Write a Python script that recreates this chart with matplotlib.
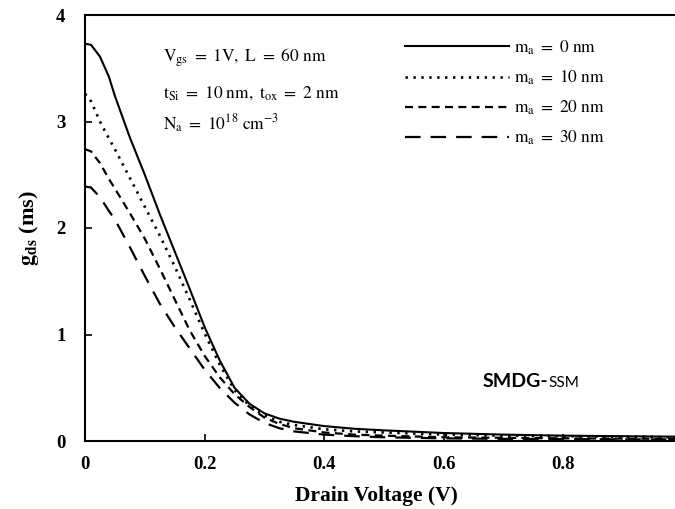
import numpy as np
import matplotlib
matplotlib.use('Agg')
import matplotlib.pyplot as plt

plt.rcParams['mathtext.fontset'] = 'stix'
plt.rcParams['font.family'] = ['Liberation Serif', 'DejaVu Serif']

# 드레인 전압 (V)
vd = [0, 0.01, 0.025, 0.04, 0.05, 0.075, 0.1, 0.125, 0.15, 0.175, 0.2, 0.225, 0.25,
      0.275, 0.3, 0.325, 0.35, 0.4, 0.45, 0.5, 0.6, 0.7, 0.8, 0.9, 1.0]

# gds (ms) for each ma
gds_ma0 = [3.73, 3.72, 3.61, 3.42, 3.24, 2.85, 2.50, 2.13, 1.78, 1.43, 1.07, 0.76, 0.50,
           0.35, 0.26, 0.21, 0.18, 0.14, 0.115, 0.10, 0.075, 0.06, 0.05, 0.045, 0.04]
gds_ma10 = [3.26, 3.19, 3.00, 2.84, 2.74, 2.47, 2.20, 1.93, 1.64, 1.33, 1.01, 0.72, 0.48,
            0.33, 0.24, 0.18, 0.15, 0.11, 0.09, 0.08, 0.06, 0.05, 0.045, 0.04, 0.035]
gds_ma20 = [2.74, 2.72, 2.61, 2.46, 2.37, 2.14, 1.90, 1.62, 1.33, 1.04, 0.80, 0.60, 0.44,
            0.32, 0.22, 0.16, 0.12, 0.08, 0.06, 0.05, 0.035, 0.03, 0.025, 0.022, 0.02]
gds_ma30 = [2.39, 2.38, 2.29, 2.16, 2.08, 1.82, 1.55, 1.29, 1.07, 0.87, 0.67, 0.50, 0.36,
            0.25, 0.17, 0.12, 0.09, 0.06, 0.045, 0.035, 0.025, 0.02, 0.018, 0.015, 0.015]

labels = [r'$\mathrm{m_a}\ =\ 0\ \mathrm{nm}$', r'$\mathrm{m_a}\ =\ 10\ \mathrm{nm}$',
          r'$\mathrm{m_a}\ =\ 20\ \mathrm{nm}$', r'$\mathrm{m_a}\ =\ 30\ \mathrm{nm}$']

fig = plt.figure(figsize=(6.75, 5.09), dpi=100)
ax = fig.add_axes([85/675, 1-441/509, 598/675, 426/509])

styles = ['-', (0, (0.9, 2.1)), (0, (3.6, 2.4)), (0, (7, 4.5))]
widths = [1.5, 1.9, 1.6, 1.6]
lines = []
for y, ls, lw, lab in zip([gds_ma0, gds_ma10, gds_ma20, gds_ma30], styles, widths, labels):
    l, = ax.plot(vd, y, color='black', lw=lw, linestyle=ls, label=lab)
    lines.append(l)

ax.set_xlim(0, 1)
ax.set_ylim(0, 4)
ax.set_xticks([0, 0.2, 0.4, 0.6, 0.8, 1.0])
ax.set_xticklabels(['0', '0.2', '0.4', '0.6', '0.8', '1'])
ax.set_yticks([0, 1, 2, 3, 4])
ax.tick_params(direction='in', length=5, width=1.2, labelsize=13.5)
ax.tick_params(axis='x', pad=11)
ax.tick_params(axis='y', pad=14)
for t in ax.get_xticklabels() + ax.get_yticklabels():
    t.set_fontweight('bold')
for s in ax.spines.values():
    s.set_linewidth(1.5)

ax.set_xlabel('Drain Voltage (V)', fontsize=15.5, fontweight='bold', labelpad=9)
ax.xaxis.set_label_coords(0.488, -0.105)
ax.set_ylabel(r'$\mathbf{g_{ds}}$ (ms)', fontsize=16, fontweight='bold', labelpad=11)

leg = ax.legend(handles=lines, loc='upper left', bbox_to_anchor=(0.535, 0.945),
                frameon=False, fontsize=12.5, handlelength=6.0, handletextpad=0.3,
                labelspacing=0.68, borderaxespad=0, borderpad=0)

ax.text(0.13, 0.90, r'$\mathrm{V_{gs}}\ =\ 1\mathrm{V,}\ \mathrm{L}\ =\ 60\ \mathrm{nm}$',
        transform=ax.transAxes, fontsize=12.5, va='center')
ax.text(0.13, 0.817, r'$\mathrm{t_{Si}}\ =\ 10\ \mathrm{nm,}\ \mathrm{t_{ox}}\ =\ 2\ \mathrm{nm}$',
        transform=ax.transAxes, fontsize=12.5, va='center')
ax.text(0.13, 0.744, r'$\mathrm{N_a}\ =\ 10^{18}\ \mathrm{cm^{-3}}$',
        transform=ax.transAxes, fontsize=12.5, va='center')

t1 = ax.text(0.665, 0.127, 'SMDG-', transform=ax.transAxes, fontsize=14,
             fontweight='bold', family=['Lato', 'DejaVu Sans'])
ax.annotate('SSM', xy=(1, 0), xycoords=t1, fontsize=11, va='bottom',
            family=['Lato', 'DejaVu Sans'])

fig.savefig('out.png', dpi=100)
